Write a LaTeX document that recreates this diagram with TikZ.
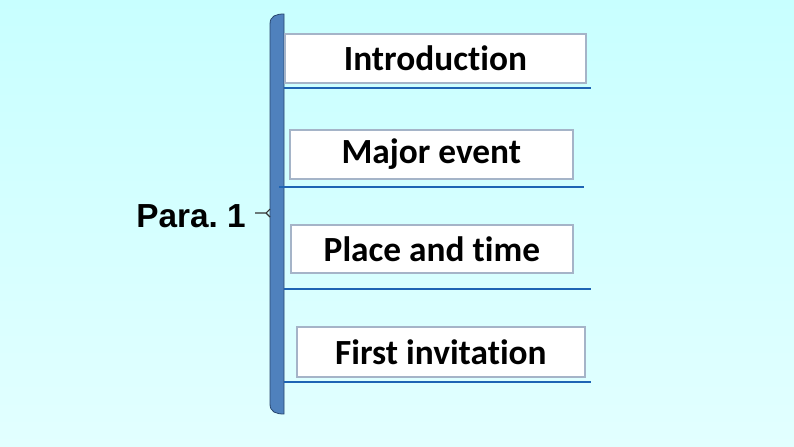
\documentclass[tikz,border=0pt]{standalone}
\usepackage{fontspec}
\setmainfont{Carlito}[Ligatures=NoCommon]
\newfontfamily\parafont{Liberation Sans}
\usetikzlibrary{positioning}
\definecolor{bgtop}{RGB}{200,255,255}
\definecolor{bgbot}{RGB}{226,255,255}
\definecolor{barblue}{RGB}{79,129,189}
\definecolor{baredge}{RGB}{40,70,110}
\definecolor{lineblue}{RGB}{30,100,180}
\definecolor{boxedge}{RGB}{165,180,200}
\tikzset{
  itembox/.style={draw=boxedge,line width=1.3pt,fill=white,inner sep=0pt,anchor=north west,
    font=\bfseries\fontsize{26.5}{30}\selectfont},
  rule/.style={draw=lineblue,line width=1.4pt}
}
\frenchspacing
\begin{document}
\begin{tikzpicture}[x=0.75pt,y=-0.75pt]
\useasboundingbox (0,0) rectangle (794,447);
\shade[top color=bgtop,bottom color=bgbot] (0,0) rectangle (794,447);
% brace bar
\draw[baredge,line width=0.6pt,fill=barblue] (284,14) .. controls (276,14) and (270,16) .. (270,24)
  -- (270,404) .. controls (270,412) and (276,414) .. (284,414) -- cycle;
\coordinate (tip) at (255,213);
\coordinate (tipend) at (266,213);
\draw[black!80,line width=0.8pt] (tip) -- (tipend) -- (270,209) (tipend) -- (270,217);
\node[font=\parafont\bfseries\fontsize{25}{30}\selectfont,anchor=east,inner sep=0pt] (para) at (246,216) {Para. 1};
% items
\node[itembox,minimum width=301*0.75pt,minimum height=49*0.75pt] (intro) at (284,33) {Introduction};
\node[itembox,minimum width=283*0.75pt,minimum height=49*0.75pt] (major) at (289,129) {Major event};
\node[itembox,minimum width=282*0.75pt,minimum height=48*0.75pt] (place) at (290,224) {Place and time};
\node[itembox,minimum width=288*0.75pt,minimum height=50*0.75pt] (first) at (296,326) {First invitation};
% rules under items
\coordinate (r1a) at (284,88); \coordinate (r1b) at (591,88);
\coordinate (r2a) at (279,187); \coordinate (r2b) at (584,187);
\coordinate (r3a) at (284,289); \coordinate (r3b) at (591,289);
\coordinate (r4a) at (284,382); \coordinate (r4b) at (591,382);
\foreach \i in {1,...,4} \draw[rule] (r\i a) -- (r\i b);
\end{tikzpicture}
\end{document}
